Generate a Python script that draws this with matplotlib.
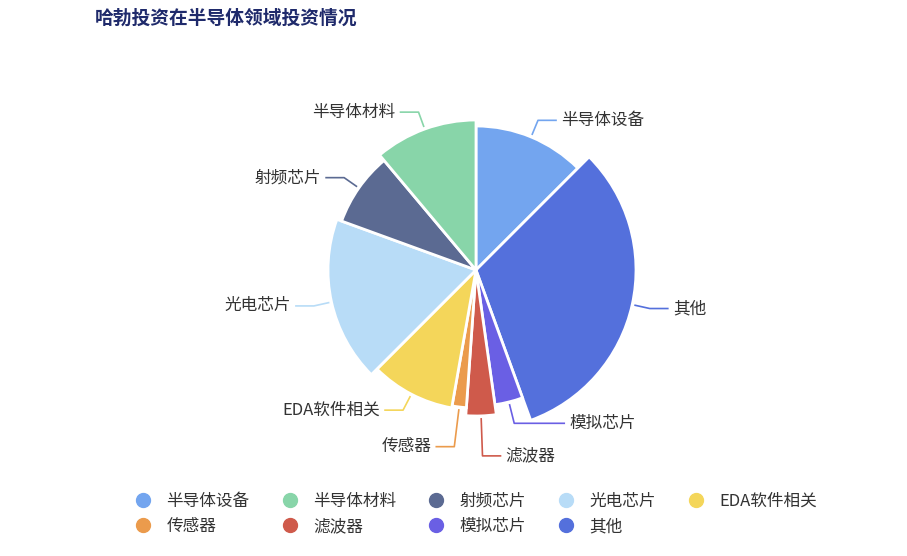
import numpy as np
import matplotlib.pyplot as plt
from matplotlib.patches import Wedge
from matplotlib.lines import Line2D

plt.rcParams['font.family'] = 'Noto Sans CJK SC'

# slices clockwise from 12 o'clock
labels = ['半导体设备', '其他', '模拟芯片', '滤波器', '传感器', 'EDA软件相关', '光电芯片', '射频芯片', '半导体材料']
angles = [45, 115, 12, 12, 6, 35, 65, 30, 40]          # degrees of arc
radii = [144, 160, 136, 146, 138, 140, 148, 143, 150]   # outer radius (px)
colors = ['#73a5ef', '#5470dc', '#6a5fe4', '#cf5a4b', '#eb9b4c', '#f4d65a', '#b8dcf7', '#5b6a92', '#88d5a9']
legend_rows = [['半导体设备', '半导体材料', '射频芯片', '光电芯片', 'EDA软件相关'],
               ['传感器', '滤波器', '模拟芯片', '其他']]

W, H = 907, 556
fig = plt.figure(figsize=(W / 100, H / 100), dpi=100)
ax = fig.add_axes([0, 0, 1, 1])
ax.set_xlim(0, W)
ax.set_ylim(0, H)
ax.set_aspect('equal')
ax.axis('off')

# leader-line layout: (radial extension, horizontal run)
leader = {'模拟芯片': (22, 50), '滤波器': (40, 18), '传感器': (40, 18)}

cx, cy = 476, H - 270
start = 0
for lab, a, r, c in zip(labels, angles, radii, colors):
    t1, t2 = 90 - (start + a), 90 - start
    ax.add_patch(Wedge((cx, cy), r, t1, t2, facecolor=c, edgecolor='white', lw=2))
    mid = np.deg2rad(90 - (start + a / 2))
    dx, dy = np.cos(mid), np.sin(mid)
    ext, run = leader.get(lab, (18, 18))
    p1 = (cx + (r + 3) * dx, cy + (r + 3) * dy)
    p2 = (cx + (r + ext) * dx, cy + (r + ext) * dy)
    side = 1 if dx >= 0 else -1
    p3 = (p2[0] + side * run, p2[1])
    ax.plot([p1[0], p2[0], p3[0]], [p1[1], p2[1], p3[1]], color=c, lw=1.2)
    ax.text(p3[0] + side * 5, p3[1], lab, ha='left' if side > 0 else 'right',
            va='center', fontsize=12, color='#333333')
    start += a

fig.text(95 / W, 1 - 18 / H, '哈勃投资在半导体领域投资情况', fontsize=13.5, fontweight='bold',
         color='#1f2a6b', va='center', ha='left')

# legend fills column by column, so interleave the two rows
cmap = dict(zip(labels, colors))
order = []
for i in range(5):
    for row in legend_rows:
        if i < len(row):
            order.append(row[i])
handles = [Line2D([], [], marker='o', ls='', markersize=10, color=cmap[l]) for l in order]
fig.legend(handles, order, loc='center', bbox_to_anchor=(0.52, 1 - 514 / H), ncol=5,
           frameon=False, fontsize=12, handletextpad=0.4, columnspacing=1.4,
           labelspacing=0.5, labelcolor='#333333')

fig.savefig('out.png', dpi=100)
